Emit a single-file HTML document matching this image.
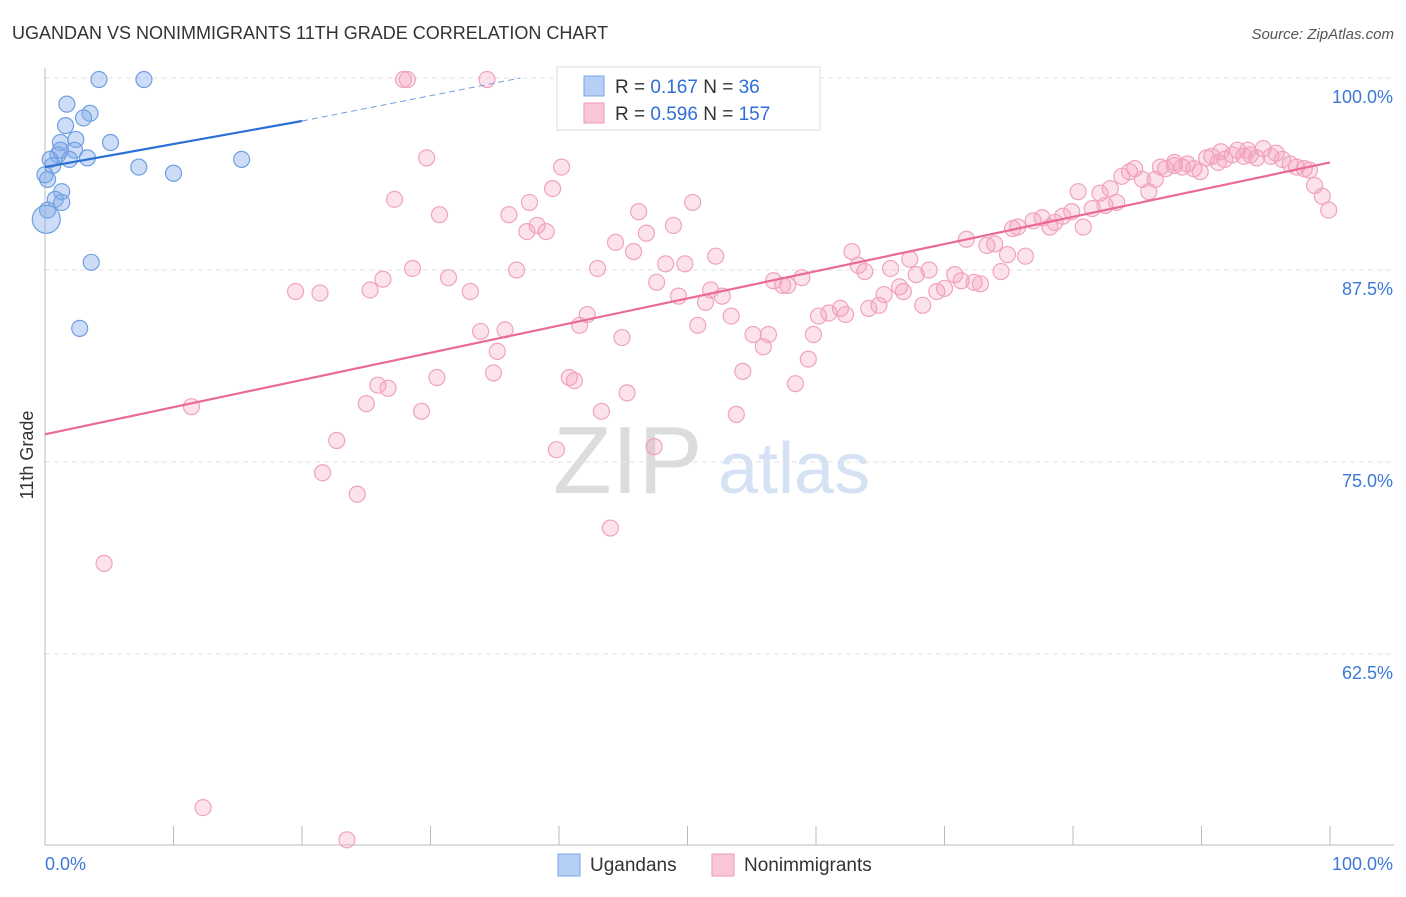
<!DOCTYPE html>
<html><head><meta charset="utf-8">
<style>
body{margin:0;background:#fff;font-family:"Liberation Sans",sans-serif;}
svg text{font-family:"Liberation Sans",sans-serif;}
</style></head>
<body>
<svg id="chart" width="1406" height="892" xmlns="http://www.w3.org/2000/svg">
<text x="12" y="39" font-size="18" fill="#333">UGANDAN VS NONIMMIGRANTS 11TH GRADE CORRELATION CHART</text>
<text x="1394" y="39" font-size="15" fill="#555" text-anchor="end" font-style="italic">Source: ZipAtlas.com</text>
<text x="0" y="0" font-size="18" fill="#333" text-anchor="middle" transform="translate(33,455) rotate(-90)">11th Grade</text>
<g>
<text x="553" y="493" font-size="96" fill="#dcdcdc" font-family="Liberation Serif,serif">ZIP</text>
<text x="718" y="493" font-size="72" fill="#d4e2f4">atlas</text>
</g>
<g id="grid"></g>
<g id="axes"></g>
<g id="pink"></g>
<g id="blue"></g>
<g id="lines"></g>
<g>
<rect x="557" y="67" width="263" height="63" fill="#fff" stroke="#ddd"/>
<rect x="584" y="76" width="20" height="20" fill="#b6cff5" stroke="#7aa4e4"/>
<rect x="584" y="103" width="20" height="20" fill="#f9c6d6" stroke="#ee9ab8"/>
<text x="615" y="93" font-size="19" fill="#333">R = <tspan fill="#2e6fd6">0.167</tspan>   N = <tspan fill="#2e6fd6">36</tspan></text>
<text x="615" y="120" font-size="19" fill="#333">R = <tspan fill="#2e6fd6">0.596</tspan>   N = <tspan fill="#2e6fd6">157</tspan></text>
</g>
<g>
<rect x="558" y="854" width="22" height="22" fill="#b6cff5" stroke="#7aa4e4"/>
<text x="590" y="871" font-size="19" fill="#333">Ugandans</text>
<rect x="712" y="854" width="22" height="22" fill="#f9c6d6" stroke="#ee9ab8"/>
<text x="744" y="871" font-size="19" fill="#333">Nonimmigrants</text>
</g>
</svg>
<script>
const yTicks=[100,87.5,75,62.5];
const yTickLabels=["100.0%","87.5%","75.0%","62.5%"];
const xTickLabels=["0.0%","100.0%"];
const blueX=[4.2,7.7,1.7,3.5,3.0,1.6,5.1,1.2,2.4,1.0,2.3,3.3,0.4,0.6,7.3,10.0,15.3,0.2,1.3,0.8,1.3,0.2,0.1,3.6,2.7,1.9,0,1.2];
const blueY=[99.9,99.9,98.3,97.7,97.4,96.9,95.8,95.8,96.0,95.0,95.3,94.8,94.7,94.3,94.2,93.8,94.7,93.4,92.6,92.1,91.9,91.4,90.8,88.0,83.7,94.7,93.7,95.3];
const pinkX=[27.9,28.2,34.4,29.7,27.2,30.7,40.2,39.5,37.7,36.1,38.3,37.5,39.0,46.2,50.4,48.9,46.8,44.4,45.8,52.2,48.3,49.8,43.0,36.7,28.6,31.4,26.3,19.5,21.4,25.3,33.1,47.6,51.8,52.7,49.3,51.4,42.2,41.6,50.8,53.4,44.9,33.9,35.8,35.2,55.1,56.3,55.9,34.9,30.5,25.9,26.7,40.8,41.2,45.3,25.0,29.3,43.3,11.4,54.3,58.4,53.8,59.4,59.8,22.7,39.8,47.4,21.6,24.3,44.0,4.6,12.3,23.5,56.7,57.4,57.8,58.9,60.2,61.0,61.9,62.3,62.8,63.3,63.8,64.1,64.9,65.3,65.8,66.5,66.8,67.3,67.8,68.3,68.8,69.4,70.0,70.8,71.3,71.7,72.3,72.8,73.3,73.9,74.4,74.9,75.3,75.7,76.3,76.9,77.6,78.2,78.6,79.2,79.9,80.4,80.8,81.5,82.1,82.5,82.9,83.4,83.8,84.4,84.8,85.4,85.9,86.4,86.8,87.2,87.9,88.5,88.9,89.4,89.9,90.4,90.8,91.3,91.8,92.4,92.8,93.3,93.8,94.3,94.8,95.4,95.8,96.3,96.9,97.4,98.0,98.4,98.8,99.4,99.9,87.9,91.5,93.6];
const pinkY=[99.9,99.9,99.9,94.8,92.1,91.1,94.2,92.8,91.9,91.1,90.4,90.0,90.0,91.3,91.9,90.4,89.9,89.3,88.7,88.4,87.9,87.9,87.6,87.5,87.6,87.0,86.9,86.1,86.0,86.2,86.1,86.7,86.2,85.8,85.8,85.4,84.6,83.9,83.9,84.5,83.1,83.5,83.6,82.2,83.3,83.3,82.5,80.8,80.5,80.0,79.8,80.5,80.3,79.5,78.8,78.3,78.3,78.6,80.9,80.1,78.1,81.7,83.3,76.4,75.8,76.0,74.3,72.9,70.7,68.4,52.5,50.4,86.8,86.5,86.5,87.0,84.5,84.7,85.0,84.6,88.7,87.8,87.4,85.0,85.2,85.9,87.6,86.4,86.1,88.2,87.2,85.2,87.5,86.1,86.3,87.2,86.8,89.5,86.7,86.6,89.1,89.2,87.4,88.5,90.2,90.3,88.4,90.7,90.9,90.3,90.6,91.0,91.3,92.6,90.3,91.5,92.5,91.7,92.8,91.9,93.6,93.9,94.1,93.4,92.6,93.4,94.2,94.1,94.3,94.2,94.4,94.1,93.9,94.8,94.9,94.5,94.7,95.0,95.3,94.9,95.0,94.8,95.4,94.9,95.1,94.7,94.4,94.2,94.1,94.0,93.0,92.3,91.4,94.5,95.2,95.3];
const blueTrend=[[0,94.2],[20,97.2]];
const blueDash=[[20,97.2],[37,100]];
const pinkTrend=[[0,76.8],[100,94.5]];
const NS="http://www.w3.org/2000/svg";
const X0=45,X1=1330,Y100=78,PX=15.36;
function sx(v){return X0+(X1-X0)*v/100;}
function sy(v){return Y100+(100-v)*PX;}
function mk(tag,attrs,parent){const e=document.createElementNS(NS,tag);for(const k in attrs)e.setAttribute(k,attrs[k]);parent.appendChild(e);return e;}
const grid=document.getElementById('grid'),axes=document.getElementById('axes');
yTicks.forEach((t,i)=>{
  const l=mk('line',{x1:X0,x2:1394,y1:sy(t),y2:sy(t),stroke:'#e2e2e2','stroke-dasharray':'5,4'},grid);
  
  
  const tx=mk('text',{x:1393,y:sy(t)+25,'font-size':18,fill:'#3d78d8','text-anchor':'end'},axes);
  tx.textContent=yTickLabels[i];
  
  
});
const xa=mk('line',{x1:X0,x2:1394,y1:845,y2:845,stroke:'#bbb'},axes);


const ya=mk('line',{x1:X0,x2:X0,y1:68,y2:845,stroke:'#bbb'},axes);


for(let i=0;i<=10;i++){
  const t=mk('line',{x1:sx(i*10),x2:sx(i*10),y1:826,y2:845,stroke:'#bbb'},axes);
  
  
}
[[0,'start',45],[100,'end',1393]].forEach((d,i)=>{
  const tx=mk('text',{x:d[2],y:870,'font-size':18,fill:'#3d78d8','text-anchor':d[1]},axes);
  tx.textContent=xTickLabels[i];
  
  
});
const pg=document.getElementById('pink');
pinkX.forEach((x,i)=>{
  const c=mk('circle',{cx:sx(x),cy:sy(pinkY[i]),r:8,fill:'rgba(244,160,190,0.3)',stroke:'#f0a3bf','stroke-width':1.2},pg);
  
  
});
const bg=document.getElementById('blue');
blueX.forEach((x,i)=>{
  const c=mk('circle',{cx:sx(x),cy:sy(blueY[i]),r:(i===22?14:8),fill:'rgba(130,170,235,0.4)',stroke:'#6f9fe0','stroke-width':1.2},bg);
  
  
});
const lg=document.getElementById('lines');
const pl=mk('line',{x1:sx(pinkTrend[0][0]),y1:sy(pinkTrend[0][1]),x2:sx(pinkTrend[1][0]),y2:sy(pinkTrend[1][1]),stroke:'#ea6a97','stroke-width':2.2},lg);


const bl=mk('line',{x1:sx(blueTrend[0][0]),y1:sy(blueTrend[0][1]),x2:sx(blueTrend[1][0]),y2:sy(blueTrend[1][1]),stroke:'#2a6fd6','stroke-width':2.2},lg);


const bd=mk('line',{x1:sx(blueDash[0][0]),y1:sy(blueDash[0][1]),x2:sx(blueDash[1][0]),y2:sy(blueDash[1][1]),stroke:'#6f9fe0','stroke-width':1,'stroke-dasharray':'6,4'},lg);


</script>
</body></html>
